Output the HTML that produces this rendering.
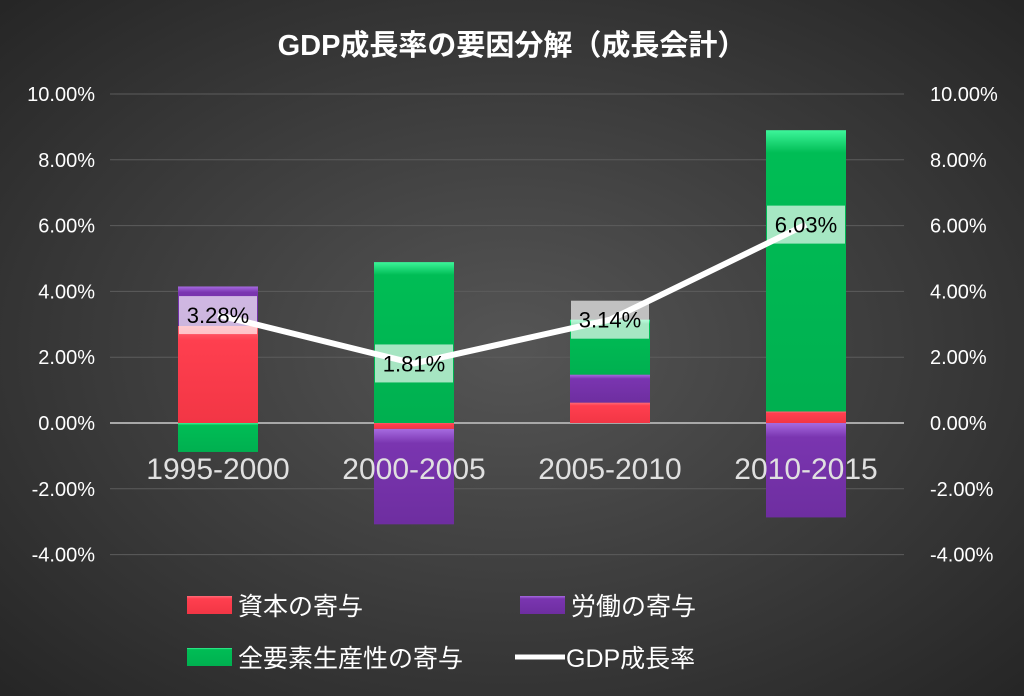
<!DOCTYPE html>
<html><head><meta charset="utf-8">
<style>
html,body{margin:0;padding:0;background:#333;}
svg{display:block;font-family:"Liberation Sans","Noto Sans CJK JP",sans-serif;}
</style></head>
<body>
<svg id="chart" width="1024" height="696" viewBox="0 0 1024 696">
<defs>
<radialGradient id="bg" cx="50%" cy="50%" r="70%">
<stop offset="0" stop-color="#555"/><stop offset="1" stop-color="#262626"/>
</radialGradient>
<linearGradient id="gR" x1="0" x2="0" y1="0" y2="1"><stop offset="0" stop-color="#ff6b78"/><stop offset="0.15" stop-color="#ff3f4f"/><stop offset="1" stop-color="#f23645"/></linearGradient>
<linearGradient id="gP" x1="0" x2="0" y1="0" y2="1"><stop offset="0" stop-color="#a66be0"/><stop offset="0.15" stop-color="#7a35b0"/><stop offset="1" stop-color="#6e2ea0"/></linearGradient>
<linearGradient id="gG" x1="0" x2="0" y1="0" y2="1"><stop offset="0" stop-color="#3df59a"/><stop offset="0.08" stop-color="#00bd55"/><stop offset="1" stop-color="#00b050"/></linearGradient>
</defs>
<rect x="0" y="0" width="1024" height="696" fill="url(#bg)"/>
<text x="512" y="55" text-anchor="middle" fill="#fff" font-size="29" font-weight="bold">GDP成長率の要因分解（成長会計）</text>
<g id="grid"></g><g id="bars"></g><g id="line"></g><g id="labels"></g>
<g>
<rect x="187" y="596" width="45" height="18" fill="url(#gR)"/>
<text x="238" y="615" fill="#fff" font-size="25">資本の寄与</text>
<rect x="520" y="596" width="45" height="18" fill="url(#gP)"/>
<text x="571" y="615" fill="#fff" font-size="25">労働の寄与</text>
<rect x="187" y="648" width="45" height="18" fill="url(#gG)"/>
<text x="238" y="667" fill="#fff" font-size="25">全要素生産性の寄与</text>
<line x1="515" y1="657" x2="565" y2="657" stroke="#fff" stroke-width="5"/>
<text x="566" y="667" fill="#fff" font-size="25">GDP成長率</text>
</g>
</svg>
<script>
const categories = ["1995-2000","2000-2005","2005-2010","2010-2015"];
const capital = [2.95, -0.18, 0.62, 0.35];
const labor = [1.2, -2.9, 0.85, -2.87];
const tfp = [-0.88, 4.89, 1.67, 8.55];
const gdp = [3.28, 1.81, 3.14, 6.03];
const gdpLabels = ["3.28%","1.81%","3.14%","6.03%"];
const ticks = [-4, -2, 0, 2, 4, 6, 8, 10];

const NS = "http://www.w3.org/2000/svg";
const plotL = 120, plotR = 904;
const y = v => 423 - v * 32.9;
const x = i => plotL + (i + 0.5) * (plotR - plotL) / categories.length;
const bw = 80;
function mk(tag, attrs, parent){ const e=document.createElementNS(NS,tag); for(const k in attrs) e.setAttribute(k,attrs[k]); parent.appendChild(e); return e; }
const grid = document.getElementById('grid'), bars=document.getElementById('bars'), lineG=document.getElementById('line'), labs=document.getElementById('labels');

ticks.forEach(t=>{
  const ln = mk('line',{x1:plotL-10,x2:plotR,y1:y(t),y2:y(t),stroke:t===0?'#a8a8a8':'#5c5c5c','stroke-width':t===0?2:1},grid);
  
  
  const a = mk('text',{x:95,y:y(t)+7,'text-anchor':'end',fill:'#fff','font-size':20},grid);
  a.textContent = t.toFixed(2)+'%';
  
  
  const b = mk('text',{x:930,y:y(t)+7,'text-anchor':'start',fill:'#fff','font-size':20},grid);
  b.textContent = t.toFixed(2)+'%';
  
  
});

categories.forEach((c,i)=>{
  let pos=0, neg=0;
  [[capital[i],'url(#gR)','bar-capital'],[labor[i],'url(#gP)','bar-labor'],[tfp[i],'url(#gG)','bar-tfp']].forEach(([v,f,n])=>{
    let y0,y1;
    if(v>=0){ y0=pos; y1=pos+v; pos=y1; } else { y0=neg; y1=neg+v; neg=y1; }
    const top=Math.min(y(y0),y(y1)), h=Math.abs(y(y1)-y(y0));
    const r = mk('rect',{x:x(i)-bw/2,y:top,width:bw,height:h,fill:f},bars);
    
    
  });
  const t = mk('text',{x:x(i),y:479,'text-anchor':'middle',fill:'#e0e0e0','font-size':30},labs);
  t.textContent=c;
  
  
});

const pts = gdp.map((v,i)=>x(i)+','+y(v)).join(' ');
const pl = mk('polyline',{points:pts,fill:'none',stroke:'#fff','stroke-width':6,'stroke-linejoin':'round'},lineG);



gdp.forEach((v,i)=>{
  const bx = mk('rect',{x:x(i)-39,y:y(v)-19,width:78,height:38,fill:'rgba(255,255,255,0.65)'},labs);
  
  
  const t = mk('text',{x:x(i),y:y(v)+8,'text-anchor':'middle',fill:'#000','font-size':22},labs);
  t.textContent = gdpLabels[i];
  
  
});
</script>
</body></html>
